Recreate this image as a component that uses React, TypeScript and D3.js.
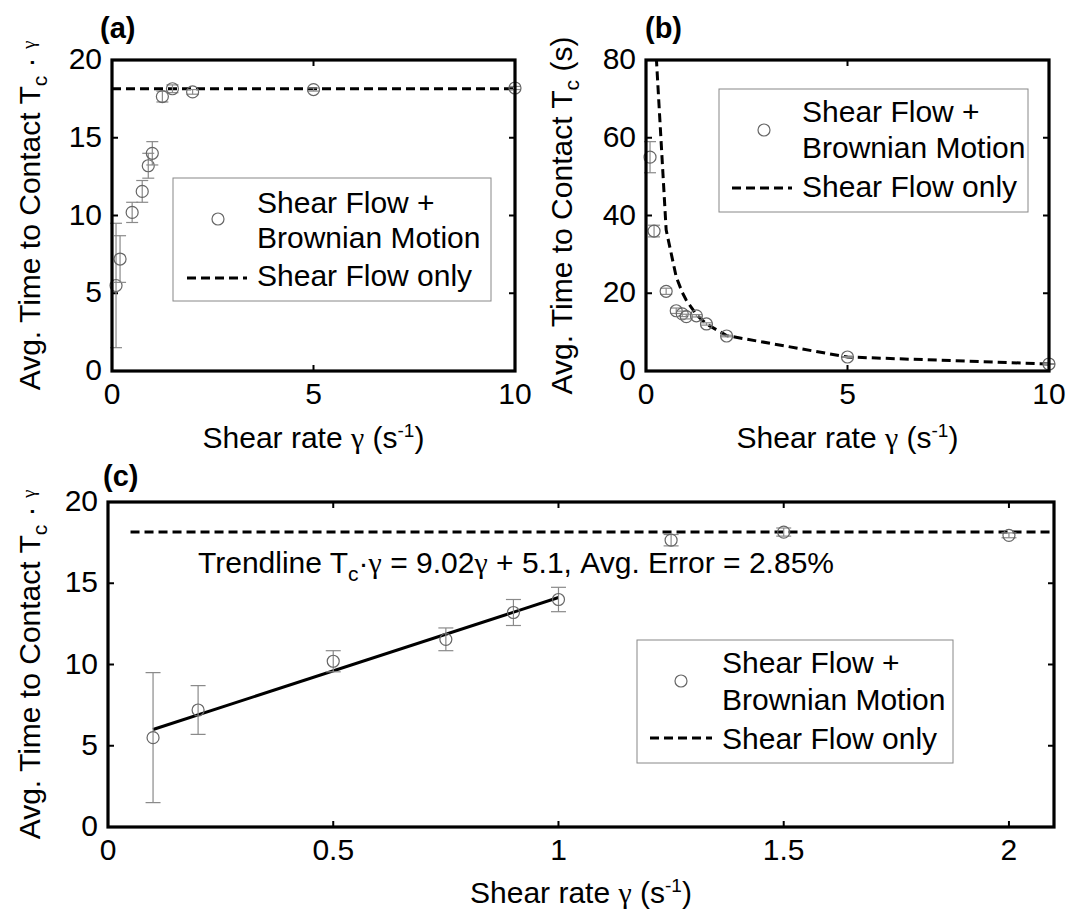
import { useRef, useEffect } from "react";
import * as d3 from "d3";

// measured data (shear rate in 1/s)
const shearRate = [0.1, 0.2, 0.5, 0.75, 0.9, 1.0, 1.25, 1.5, 2, 5, 10];
const tcGamma = [5.5, 7.2, 10.2, 11.55, 13.2, 14.0, 17.65, 18.15, 17.95, 18.1, 18.2];
const tcGammaErr = [4.0, 1.5, 0.65, 0.7, 0.8, 0.75, 0.35, 0.25, 0.15, 0.1, 0.1];
const tcSeconds = [55, 36, 20.5, 15.5, 14.7, 14.0, 14.2, 12.1, 9.0, 3.6, 1.8];
const tcSecondsErr = [4.0, 1.5, 0.8, 0.7, 0.7, 0.6, 0.3, 0.3, 0.2, 0.1, 0.1];

// shear flow only (no brownian motion)
const shearOnlyTcGamma = 18.15;
const shearOnlyTc = [181.5, 90.8, 36.3, 24.2, 20.2, 18.2, 14.5, 12.1, 9.1, 3.6, 1.8];

// trendline Tc*gamma = 9.02*gamma + 5.1 over 0.1..1
const trendRange = [0.1, 1.0];
const trendSlope = 9.02;
const trendIntercept = 5.1;

const xTicksWide = [0, 5, 10];
const xTicksNarrow = [0, 0.5, 1, 1.5, 2];
const yTicksA = [0, 5, 10, 15, 20];
const yTicksB = [0, 20, 40, 60, 80];

const FONT = '"Liberation Sans", Arial, Helvetica, sans-serif';
const GREEK = '"Liberation Serif", "DejaVu Serif", serif';
const FS = 30;
const MARK = "#666";
const BAR = "#8a8a8a";

type Box = { left: number; right: number; top: number; bottom: number };

const drawFrame = (svg: any, box: Box, x: any, y: any, xTicks: number[], yTicks: number[], id: string) => {
  const g = svg.append("g");
  // ticks inside, on all sides
  xTicks.forEach((t) => {
    [box.bottom, box.top].forEach((yy, i) => {
      g.append("line")
        .attr("x1", x(t))
        .attr("x2", x(t))
        .attr("y1", yy)
        .attr("y2", i === 0 ? yy - 6 : yy + 6)
        .attr("stroke", "#000")
        .attr("stroke-width", 2);
    });
    g.append("text")
      .attr("x", x(t))
      .attr("y", box.bottom + 33)
      .attr("text-anchor", "middle")
      .attr("font-size", FS)
      .text(String(t));
  });
  yTicks.forEach((t) => {
    [box.left, box.right].forEach((xx, i) => {
      g.append("line")
        .attr("y1", y(t))
        .attr("y2", y(t))
        .attr("x1", xx)
        .attr("x2", i === 0 ? xx + 6 : xx - 6)
        .attr("stroke", "#000")
        .attr("stroke-width", 2);
    });
    g.append("text")
      .attr("x", box.left - 10)
      .attr("y", y(t) + 9)
      .attr("text-anchor", "end")
      .attr("font-size", FS)
      .text(String(t));
  });
  svg
    .append("defs")
    .append("clipPath")
    .attr("id", id)
    .append("rect")
    .attr("x", box.left)
    .attr("y", box.top)
    .attr("width", box.right - box.left)
    .attr("height", box.bottom - box.top);
};

const drawBox = (svg: any, box: Box) => {
  svg
    .append("rect")
    .attr("x", box.left)
    .attr("y", box.top)
    .attr("width", box.right - box.left)
    .attr("height", box.bottom - box.top)
    .attr("fill", "none")
    .attr("stroke", "#000")
    .attr("stroke-width", 3.2);
};

const drawPoints = (svg: any, xs: number[], ys: number[], errs: number[], x: any, y: any, cap: number, maxX: number) => {
  const g = svg.append("g");
  xs.forEach((v, i) => {
    if (v > maxX) return;
    const cx = x(v);
    const top = y(ys[i] + errs[i]);
    const bot = y(ys[i] - errs[i]);
    g.append("line")
      .attr("x1", cx)
      .attr("x2", cx)
      .attr("y1", top)
      .attr("y2", bot)
      .attr("stroke", BAR)
      .attr("stroke-width", 1.2);
    [top, bot].forEach((yy) => {
      g.append("line")
        .attr("x1", cx - cap)
        .attr("x2", cx + cap)
        .attr("y1", yy)
        .attr("y2", yy)
        .attr("stroke", BAR)
        .attr("stroke-width", 1.2);
    });
    g.append("circle")
      .attr("cx", cx)
      .attr("cy", y(ys[i]))
      .attr("r", 6)
      .attr("fill", "none")
      .attr("stroke", MARK)
      .attr("stroke-width", 1.2);
  });
};

const yTitle = (svg: any, x: number, cy: number, seconds: boolean) => {
  const t = svg
    .append("text")
    .attr("transform", `translate(${x},${cy}) rotate(-90)`)
    .attr("text-anchor", "middle")
    .attr("font-size", FS);
  t.append("tspan").text("Avg. Time to Contact T");
  t.append("tspan").attr("font-size", 21).attr("dy", 7).text("c");
  if (seconds) {
    t.append("tspan").attr("dy", -7).text(" (s)");
  } else {
    t.append("tspan").attr("dy", -7).text(" · ");
    t.append("tspan").attr("font-size", 19).attr("font-family", GREEK).attr("dy", -5).text("γ");
  }
};

const xTitle = (svg: any, cx: number, y: number) => {
  const t = svg.append("text").attr("x", cx).attr("y", y).attr("text-anchor", "middle").attr("font-size", FS);
  t.append("tspan").text("Shear rate ");
  t.append("tspan").attr("font-family", GREEK).text("γ");
  t.append("tspan").text(" (s");
  t.append("tspan").attr("font-size", 19).attr("dy", -11).text("-1");
  t.append("tspan").attr("dy", 11).text(")");
};

const legend = (
  svg: any,
  box: Box,
  circ: [number, number],
  textX: number,
  baselines: number[],
  dash: [number, number, number]
) => {
  svg
    .append("rect")
    .attr("x", box.left)
    .attr("y", box.top)
    .attr("width", box.right - box.left)
    .attr("height", box.bottom - box.top)
    .attr("fill", "#fff")
    .attr("stroke", "#888")
    .attr("stroke-width", 1);
  svg
    .append("circle")
    .attr("cx", circ[0])
    .attr("cy", circ[1])
    .attr("r", 6)
    .attr("fill", "none")
    .attr("stroke", MARK)
    .attr("stroke-width", 1.2);
  svg
    .append("line")
    .attr("x1", dash[0])
    .attr("x2", dash[1])
    .attr("y1", dash[2])
    .attr("y2", dash[2])
    .attr("stroke", "#000")
    .attr("stroke-width", 3)
    .attr("stroke-dasharray", "9,5");
  ["Shear Flow +", "Brownian Motion", "Shear Flow only"].forEach((s, i) => {
    svg.append("text").attr("x", textX).attr("y", baselines[i]).attr("font-size", FS).text(s);
  });
};

const App = () => {
  const ref = useRef<SVGSVGElement | null>(null);

  useEffect(() => {
    document.body.style.margin = "0";
    const svg = d3.select(ref.current);
    svg.selectAll("*").remove();
    svg.attr("font-family", FONT);

    /** (a) */
    const boxA: Box = { left: 112, right: 515, top: 60, bottom: 371 };
    const xA = d3.scaleLinear().domain([0, 10]).range([boxA.left, boxA.right]);
    const yA = d3.scaleLinear().domain([0, 20]).range([boxA.bottom, boxA.top]);
    drawFrame(svg, boxA, xA, yA, xTicksWide, yTicksA, "clipA");
    svg
      .append("line")
      .attr("x1", xA(0))
      .attr("x2", xA(10))
      .attr("y1", yA(shearOnlyTcGamma))
      .attr("y2", yA(shearOnlyTcGamma))
      .attr("stroke", "#000")
      .attr("stroke-width", 3)
      .attr("stroke-dasharray", "9,5");
    legend(svg, { left: 173, right: 491, top: 178, bottom: 301 }, [218, 219], 257, [213, 248, 286], [187, 247, 278]);
    drawPoints(svg, shearRate, tcGamma, tcGammaErr, xA, yA, 6, 10);
    drawBox(svg, boxA);
    yTitle(svg, 40, (boxA.top + boxA.bottom) / 2, false);
    xTitle(svg, (boxA.left + boxA.right) / 2, 448);
    svg.append("text").attr("x", 100).attr("y", 38).attr("font-size", 29).attr("font-weight", "bold").text("(a)");

    /** (b) */
    const boxB: Box = { left: 646, right: 1049, top: 60, bottom: 371 };
    const xB = d3.scaleLinear().domain([0, 10]).range([boxB.left, boxB.right]);
    const yB = d3.scaleLinear().domain([0, 80]).range([boxB.bottom, boxB.top]);
    drawFrame(svg, boxB, xB, yB, xTicksWide, yTicksB, "clipB");
    const line = d3
      .line<number>()
      .x((_, i) => xB(shearRate[i]))
      .y((d) => yB(d));
    svg
      .append("path")
      .attr("d", line(shearOnlyTc))
      .attr("clip-path", "url(#clipB)")
      .attr("fill", "none")
      .attr("stroke", "#000")
      .attr("stroke-width", 3)
      .attr("stroke-dasharray", "9,5");
    legend(svg, { left: 719, right: 1028, top: 89, bottom: 212 }, [764, 130], 802, [122, 158, 197], [732, 792, 188]);
    drawPoints(svg, shearRate, tcSeconds, tcSecondsErr, xB, yB, 6, 10);
    drawBox(svg, boxB);
    yTitle(svg, 572, (boxB.top + boxB.bottom) / 2, true);
    xTitle(svg, (boxB.left + boxB.right) / 2, 448);
    svg.append("text").attr("x", 645).attr("y", 38).attr("font-size", 29).attr("font-weight", "bold").text("(b)");

    /** (c) */
    const boxC: Box = { left: 108, right: 1054, top: 502, bottom: 827 };
    const xC = d3.scaleLinear().domain([0, 2.1]).range([boxC.left, boxC.right]);
    const yC = d3.scaleLinear().domain([0, 20]).range([boxC.bottom, boxC.top]);
    drawFrame(svg, boxC, xC, yC, xTicksNarrow, yTicksA, "clipC");
    svg
      .append("line")
      .attr("x1", xC(0.05))
      .attr("x2", xC(2.1))
      .attr("y1", yC(shearOnlyTcGamma))
      .attr("y2", yC(shearOnlyTcGamma))
      .attr("stroke", "#000")
      .attr("stroke-width", 3)
      .attr("stroke-dasharray", "9,5");
    const tl = svg.append("text").attr("x", 198).attr("y", 573).attr("font-size", FS);
    tl.append("tspan").text("Trendline T");
    tl.append("tspan").attr("font-size", 21).attr("dy", 8).text("c");
    tl.append("tspan").attr("dy", -8).text("·");
    tl.append("tspan").attr("font-family", GREEK).text("γ");
    tl.append("tspan").text(" = 9.02");
    tl.append("tspan").attr("font-family", GREEK).text("γ");
    tl.append("tspan").text(" + 5.1, Avg. Error = 2.85%");
    svg
      .append("line")
      .attr("x1", xC(trendRange[0]))
      .attr("x2", xC(trendRange[1]))
      .attr("y1", yC(trendSlope * trendRange[0] + trendIntercept))
      .attr("y2", yC(trendSlope * trendRange[1] + trendIntercept))
      .attr("stroke", "#000")
      .attr("stroke-width", 3);
    legend(svg, { left: 637, right: 953, top: 640, bottom: 763 }, [681, 681], 722, [673, 710, 749], [650, 712, 738]);
    drawPoints(svg, shearRate, tcGamma, tcGammaErr, xC, yC, 7.5, 2.1);
    drawBox(svg, boxC);
    yTitle(svg, 40, (boxC.top + boxC.bottom) / 2, false);
    xTitle(svg, (boxC.left + boxC.right) / 2, 903);
    svg.append("text").attr("x", 103).attr("y", 486).attr("font-size", 29).attr("font-weight", "bold").text("(c)");
  }, []);

  return <svg ref={ref} width={1076} height={915} style={{ display: "block", background: "#fff" }} />;
};

export default App;
